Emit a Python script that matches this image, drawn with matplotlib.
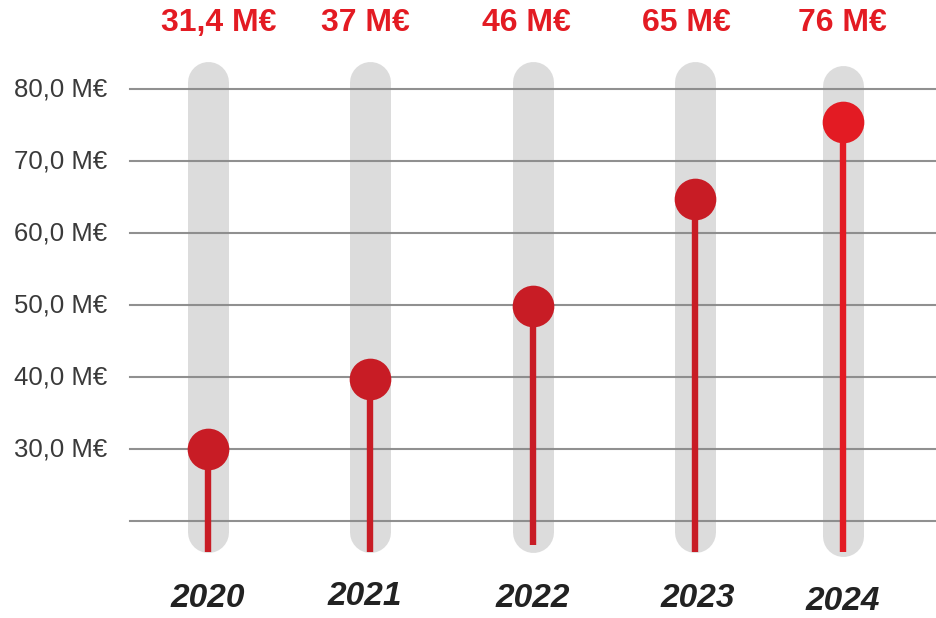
import matplotlib.pyplot as plt

plt.rcParams['font.family'] = ['Liberation Sans', 'DejaVu Sans']

# data
years = ['2020', '2021', '2022', '2023', '2024']
values = [30.0, 39.7, 49.9, 64.7, 75.4]
top_labels = ['31,4 M€', '37 M€', '46 M€', '65 M€', '76 M€']
grid_values = [20, 30, 40, 50, 60, 70, 80]
tick_labels = ['', '30,0 M€', '40,0 M€', '50,0 M€', '60,0 M€', '70,0 M€', '80,0 M€']

# layout (pixel-like x positions)
xpos = [208, 370, 533, 695, 843]
top_x = [219, 365, 526, 686, 842]
year_x = [208, 365, 533, 698, 843]
year_y = [9.2, 9.45, 9.3, 9.3, 8.8]
bar_top = [81.0, 81.0, 81.0, 81.0, 80.4]
bar_bot = [18.5, 18.5, 18.5, 18.5, 17.9]
stem_bot = [15.7, 15.7, 16.6, 15.7, 15.7]
dot_colors = ['#c81c25', '#c81c25', '#c81c25', '#c81c25', '#e31b23']

red = '#e31b23'

fig = plt.figure(figsize=(9.37, 6.18), dpi=100)
ax = fig.add_axes([0, 0, 1, 1])
ax.set_xlim(0, 937)
ax.set_ylim(30 - 169 / 7.2, 30 + 449 / 7.2)
ax.axis('off')

# grey rounded bars
for x, t, b in zip(xpos, bar_top, bar_bot):
    ax.plot([x, x], [b, t], color='#dcdcdc', lw=29.5, solid_capstyle='round', zorder=1)

# grid lines over bars
for g in grid_values:
    ax.plot([130, 937], [g, g], color='#8a8a8a', lw=1.5, alpha=0.95, zorder=2)

for g, lab in zip(grid_values, tick_labels):
    ax.text(107, g, lab, ha='right', va='center', fontsize=18.5, color='#3a3a3a', zorder=3)

# stems and dots
for x, v, sb, c in zip(xpos, values, stem_bot, dot_colors):
    ax.plot([x, x], [sb, v], color=c, lw=4.6, solid_capstyle='butt', zorder=3)
    ax.plot(x, v, 'o', color=c, markersize=30, markeredgewidth=0, zorder=4)

for x, lab in zip(top_x, top_labels):
    ax.text(x, 30 + (449 - 23) / 7.2, lab, ha='center', va='center', fontsize=23,
            fontweight='bold', color=red)

for x, y, lab in zip(year_x, year_y, years):
    ax.text(x, y, lab, ha='center', va='center', fontsize=24, fontweight='bold',
            fontstyle='italic', color='#222222')

fig.savefig('out.png', dpi=100)
